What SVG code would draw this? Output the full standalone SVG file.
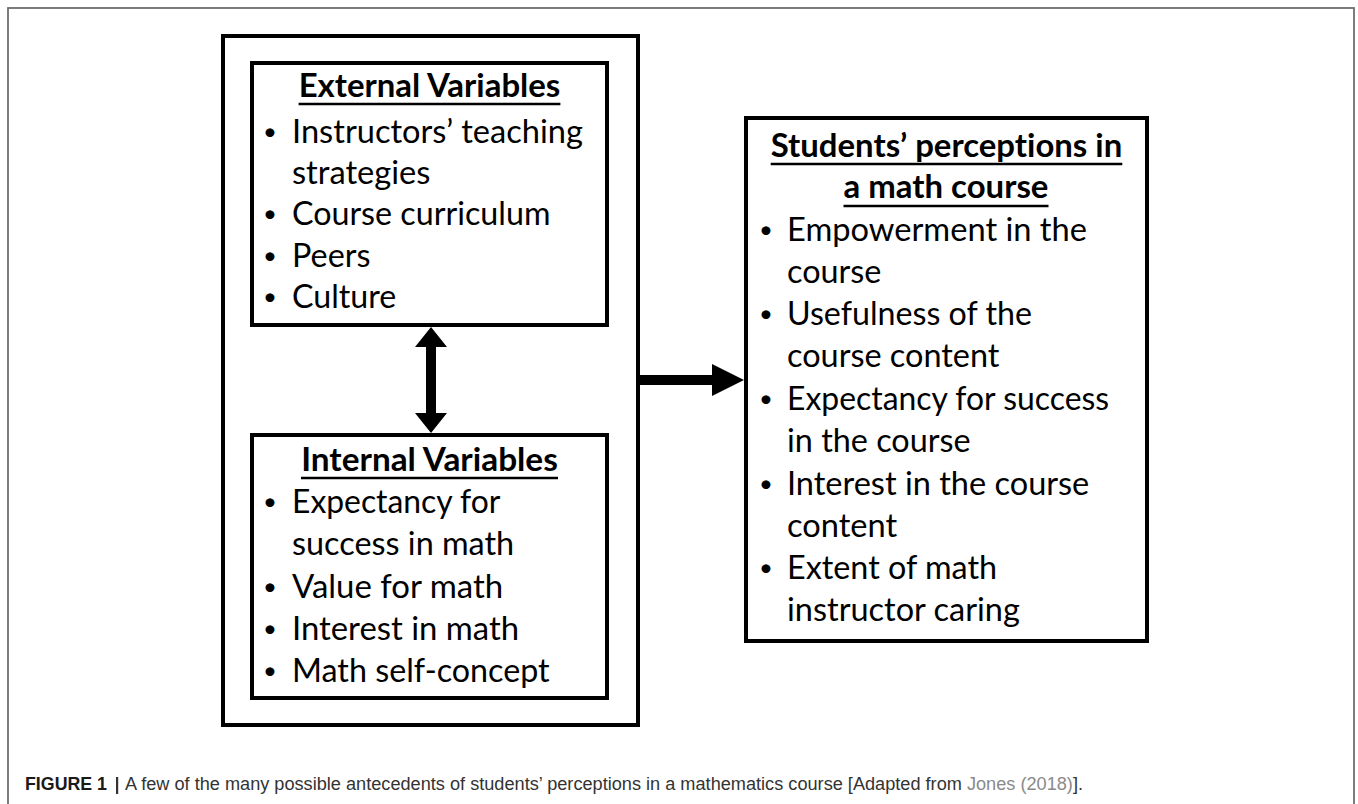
<svg xmlns="http://www.w3.org/2000/svg" width="1358" height="804" viewBox="0 0 1358 804">
<style>
.t{font-family:Lato,"Open Sans","DejaVu Sans",sans-serif;font-size:32px;fill:#000;font-variant-ligatures:none}
.b{font-weight:700}
.bul{font-family:Lato,"Open Sans","DejaVu Sans",sans-serif;font-size:24px;fill:#000;text-anchor:middle}
.box{fill:#fff;stroke:#000;stroke-width:4}
.ul{stroke:#000;stroke-width:2.5}
.arr{fill:#000;stroke:none}
.cap{font-family:"Liberation Sans",Arial,sans-serif;font-size:16.5px;fill:#333}
</style>
<rect x="0" y="0" width="1358" height="804" fill="#fff"/>
<rect id="frame" x="8" y="8" width="1346" height="830" fill="none" stroke="#6e6e6e" stroke-width="1.8"/>

<g id="node-antecedents">
<rect class="box" x="223" y="36" width="415" height="689"/>
</g>

<g id="node-external">
<rect class="box" x="252" y="63" width="355" height="262"/>
<text class="t b" x="429.5" y="97" text-anchor="middle" textLength="261.7" lengthAdjust="spacingAndGlyphs">External Variables</text>
<line class="ul" x1="298.6" y1="104" x2="560.4" y2="104"/>
<text class="bul" x="270" y="140">•</text>
<text class="t" x="292" y="143" textLength="291" lengthAdjust="spacingAndGlyphs">Instructors’ teaching</text>
<text class="t" x="292" y="184" textLength="138.4" lengthAdjust="spacingAndGlyphs">strategies</text>
<text class="bul" x="270" y="222">•</text>
<text class="t" x="292" y="225" textLength="258.4" lengthAdjust="spacingAndGlyphs">Course curriculum</text>
<text class="bul" x="270" y="264">•</text>
<text class="t" x="292" y="267" textLength="78.4" lengthAdjust="spacingAndGlyphs">Peers</text>
<text class="bul" x="270" y="305">•</text>
<text class="t" x="292" y="308" textLength="104.2" lengthAdjust="spacingAndGlyphs">Culture</text>
</g>

<g id="node-internal">
<rect class="box" x="252" y="435" width="355" height="263"/>
<text class="t b" x="429.5" y="471" text-anchor="middle" textLength="256.7" lengthAdjust="spacingAndGlyphs">Internal Variables</text>
<line class="ul" x1="301" y1="478" x2="558" y2="478"/>
<text class="bul" x="270" y="510">•</text>
<text class="t" x="292" y="513" textLength="208.4" lengthAdjust="spacingAndGlyphs">Expectancy for</text>
<text class="t" x="292" y="555" textLength="222.2" lengthAdjust="spacingAndGlyphs">success in math</text>
<text class="bul" x="270" y="595">•</text>
<text class="t" x="292" y="598" textLength="211.2" lengthAdjust="spacingAndGlyphs">Value for math</text>
<text class="bul" x="270" y="637">•</text>
<text class="t" x="292" y="640" textLength="227.1" lengthAdjust="spacingAndGlyphs">Interest in math</text>
<text class="bul" x="270" y="679">•</text>
<text class="t" x="292" y="682" textLength="257.7" lengthAdjust="spacingAndGlyphs">Math self-concept</text>
</g>

<g id="node-perceptions">
<rect class="box" x="746" y="118" width="401" height="523"/>
<text class="t b" x="946.5" y="157" text-anchor="middle" textLength="351.5" lengthAdjust="spacingAndGlyphs">Students’ perceptions in</text>
<line class="ul" x1="770.7" y1="164" x2="1122.3" y2="164"/>
<text class="t b" x="946" y="198" text-anchor="middle" textLength="204.9" lengthAdjust="spacingAndGlyphs">a math course</text>
<line class="ul" x1="843.5" y1="206" x2="1048.5" y2="206"/>
<text class="bul" x="766" y="238">•</text>
<text class="t" x="787" y="241" textLength="300" lengthAdjust="spacingAndGlyphs">Empowerment in the</text>
<text class="t" x="787" y="283" textLength="94.4" lengthAdjust="spacingAndGlyphs">course</text>
<text class="bul" x="766" y="322">•</text>
<text class="t" x="787" y="325" textLength="244.9" lengthAdjust="spacingAndGlyphs">Usefulness of the</text>
<text class="t" x="787" y="367" textLength="212.5" lengthAdjust="spacingAndGlyphs">course content</text>
<text class="bul" x="766" y="407">•</text>
<text class="t" x="787" y="410" textLength="322.1" lengthAdjust="spacingAndGlyphs">Expectancy for success</text>
<text class="t" x="787" y="452" textLength="183.6" lengthAdjust="spacingAndGlyphs">in the course</text>
<text class="bul" x="766" y="492">•</text>
<text class="t" x="787" y="495" textLength="302.3" lengthAdjust="spacingAndGlyphs">Interest in the course</text>
<text class="t" x="787" y="537" textLength="110.2" lengthAdjust="spacingAndGlyphs">content</text>
<text class="bul" x="766" y="576">•</text>
<text class="t" x="787" y="579" textLength="210.1" lengthAdjust="spacingAndGlyphs">Extent of math</text>
<text class="t" x="787" y="621" textLength="232.8" lengthAdjust="spacingAndGlyphs">instructor caring</text>
</g>

<g id="connectors">
<polygon id="edge-external-internal" class="arr" points="431,327 447,347 436,347 436,413 447,413 431,433 415,413 426,413 426,347 415,347"/>
<polygon id="edge-antecedents-perceptions" class="arr" points="640,375 712,375 712,364 744,380 712,396 712,385 640,385"/>
</g>

<g id="caption">
<text class="cap" x="25" y="790" font-weight="700" style="fill:#1a1a1a;font-size:17.5px" textLength="82" lengthAdjust="spacingAndGlyphs">FIGURE 1</text>
<rect x="116" y="777" width="2.2" height="17" fill="#333"/>
<text class="cap" x="125" y="790" style="font-size:17.5px" textLength="958" lengthAdjust="spacingAndGlyphs">A few of the many possible antecedents of students’ perceptions in a mathematics course [Adapted from <tspan style="fill:#8a8a8a">Jones (2018)</tspan>].</text>
</g>
</svg>
